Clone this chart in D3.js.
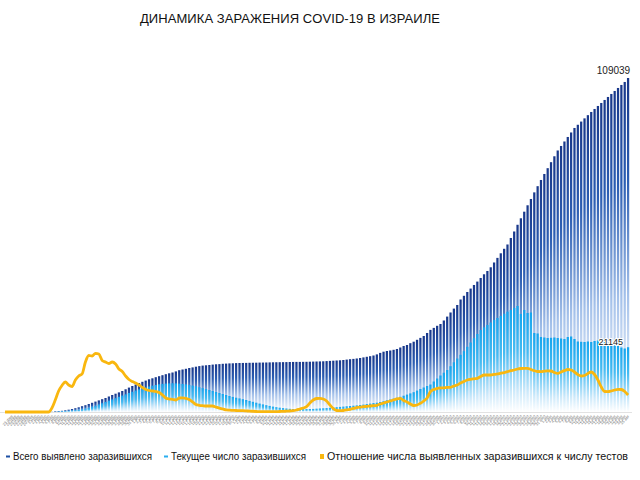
<!DOCTYPE html>
<html><head><meta charset="utf-8">
<script src="https://cdn.jsdelivr.net/npm/d3@7"></script>
<style>body{margin:0;background:#fff;}svg{display:block;font-family:"Liberation Sans",Arial,sans-serif;}</style>
</head><body><svg id="c" width="640" height="480"></svg>
<script>
const title = "ДИНАМИКА ЗАРАЖЕНИЯ COVID-19 В ИЗРАИЛЕ";
const seriesNames = ["Всего выявлено заразившихся","Текущее число заразившихся","Отношение числа выявленных заразившихся к числу тестов"];
const startDate = new Date(2020, 1, 21);
const monthsRu = ["янв","фев","мар","апр","мая","июн","июл","авг","сен","окт","ноя","дек"];

const totalCases = [1,1,1,1,1,2,2,3,3,4,7,10,12,15,
33,163,261,392,555,751,980,1241,1535,1894,2220,2612,3004,3396,3787,4179,
4571,5061,5551,5975,6399,6857,7412,7967,8489,8979,9469,9860,10252,10677,11003,
11362,11689,12015,12342,12636,12897,13256,13647,13876,14105,14366,14562,14790,14986,15150,
15248,15346,15476,15574,15639,15737,15802,15868,15900,15966,15999,16015,16031,16064,16080,
16096,16129,16145,16162,16194,16227,16243,16259,16276,16292,16325,16341,16357,16357,16374,
16390,16423,16456,16488,16521,16554,16619,16684,16750,16815,16880,16978,17109,17239,17337,
17468,17631,17827,18023,18219,18447,18806,19296,19688,19917,20080,20308,20570,21059,21549,
21876,22464,22953,23573,24194,24814,25794,26806,27459,28144,28732,29875,31148,32487,33760,
34936,36731,37939,39180,40290,41466,42576,43751,44959,46037,47245,48812,50314,51816,53285,
54689,56811,58934,61121,63244,65398,67488,69545,71700,73724,75748,77707,79601,81560,83487,
85380,86849,88318,89788,91257,92726,93771,94816,95860,96905,97950,98930,99909,100889,101868,
102848,103827,104807,105786,106766,107745,109039];

const activeCases = [1,1,1,1,1,2,2,3,3,4,7,10,12,15,30,
65,131,196,294,392,490,588,718,882,1110,1371,1698,2024,2416,2841,
3265,3689,4114,4506,4930,5355,5746,6204,6595,6987,7379,7705,8032,8326,8587,
8816,9044,9175,9273,9338,9371,9338,9240,9142,9011,8848,8620,8391,8097,7803,
7510,7183,6857,6530,6204,5877,5551,5224,4930,4669,4440,4179,3918,3624,3330,
3036,2743,2482,2220,1992,1763,1567,1404,1273,1143,1045,980,947,914,914,
947,980,1012,1078,1143,1208,1273,1371,1469,1567,1665,1763,1861,1959,2057,
2155,2286,2416,2579,2743,2906,3036,3265,3526,3820,4081,4375,4636,4963,5322,
5681,6073,6465,6987,7510,7999,8489,8979,9958,10938,11917,12832,13713,14954,16227,
17468,18676,19851,21288,22692,24096,25467,26773,27622,28406,29222,30038,30691,31344,32062,
32748,33303,33956,34609,31997,33303,32324,32487,25794,25630,24488,24324,24161,24227,24324,
24161,23998,23835,24488,24651,23835,23018,22920,22855,23018,22855,23182,23345,23410,23345,
21712,21876,21712,21549,21059,20733,21145];

const positiveRate = [0,0,0,0,0,0,0,0,0,0,0,0,0,0,
0.71,2.14,3.75,4.73,5.36,4.82,4.55,5.71,6.43,6.79,8.93,10.09,10.0,10.48,10.36,9.2,
8.93,8.66,8.93,8.57,7.68,7.23,6.43,5.8,5.45,5.18,4.82,4.38,4.02,3.84,3.75,
3.66,3.48,3.04,2.5,2.32,2.27,2.14,2.5,2.54,2.45,2.23,1.79,1.34,1.2,1.13,
1.07,1.07,1.07,0.86,0.68,0.54,0.36,0.32,0.29,0.27,0.23,0.23,0.2,0.16,0.13,
0.09,0.05,0.05,0.05,0.05,0.05,0.07,0.09,0.11,0.14,0.18,0.23,0.36,0.54,0.71,
0.95,1.61,2.14,2.41,2.45,2.32,1.96,1.25,0.63,0.27,0.23,0.27,0.36,0.48,0.63,
0.8,0.89,0.95,1.02,1.07,1.13,1.2,1.43,1.61,1.79,1.96,2.14,2.36,2.45,2.05,
1.79,1.43,1.16,1.25,1.55,1.96,2.5,3.63,4.02,4.2,4.29,4.32,4.38,4.41,4.64,
4.82,5.18,5.45,5.71,5.84,5.93,6.02,6.34,6.61,6.61,6.61,6.7,6.79,6.93,7.05,
7.2,7.38,7.5,7.68,7.77,7.8,7.8,7.59,7.36,7.23,7.2,7.29,7.36,7.32,7.05,
6.88,7.14,7.38,7.59,7.5,7.14,6.7,6.43,6.52,6.88,7.14,6.7,5.71,4.46,3.66,
3.63,3.75,3.93,4.05,4.02,3.66,3.04];

const dates = totalCases.map((d,i)=>d3.timeDay.offset(startDate, i));
const tickLabels = dates.map(d => d.getDate() + " " + monthsRu[d.getMonth()]);

const svg = d3.select("#c");
const defs = svg.append("defs");
const g1 = defs.append("linearGradient").attr("id","gDark").attr("x1",0).attr("y1",0).attr("x2",0).attr("y2",1);
[[0,"#18378a"],[0.3,"#2b5db2"],[0.65,"#a4c1ea"],[1,"#ffffff"]].forEach(s=>g1.append("stop").attr("offset",s[0]).attr("stop-color",s[1]));
const g2 = defs.append("linearGradient").attr("id","gLight").attr("x1",0).attr("y1",0).attr("x2",0).attr("y2",1);
[[0,"#14a5ee"],[0.4,"#45bcf2"],[0.8,"#cdeafb"],[1,"#ffffff"]].forEach(s=>g2.append("stop").attr("offset",s[0]).attr("stop-color",s[1]));

const idx = d3.range(totalCases.length);
const x = d3.scaleBand().domain(idx).range([3.3, 629.8]).paddingInner(0.33).paddingOuter(0.18);
const y = d3.scaleLinear().domain([0, 109039]).range([412, 78]);
const yr = d3.scaleLinear().domain([0, 10]).range([412, 356]);

svg.append("text").attr("x",290).attr("y",23).attr("text-anchor","middle")
  .attr("font-size",13).attr("fill","#111").attr("textLength",300).text(title);

svg.append("line").attr("x1",0).attr("x2",632).attr("y1",412.5).attr("y2",412.5)
  .attr("stroke","#e2e2e2").attr("stroke-width",1);

svg.append("g").selectAll("rect").data(idx).join("rect")
  .attr("x", i=>x(i)).attr("width", x.bandwidth())
  .attr("y", i=>y(totalCases[i])).attr("height", i=>Math.max(0.01, y(0)-y(totalCases[i])))
  .attr("fill","url(#gDark)");
svg.append("g").selectAll("rect").data(idx).join("rect")
  .attr("x", i=>x(i)).attr("width", x.bandwidth())
  .attr("y", i=>y(activeCases[i])).attr("height", i=>Math.max(0.01, y(0)-y(activeCases[i])))
  .attr("fill","url(#gLight)");

const line = d3.line().x((d,i)=>x(i)+x.bandwidth()/2).y(d=>yr(d)).curve(d3.curveMonotoneX);
svg.append("path").datum(positiveRate).attr("d", line).attr("fill","none")
  .attr("stroke","#f9b70f").attr("stroke-width",2.8).attr("stroke-linejoin","round");

const last = totalCases.length-1;
svg.append("text").attr("x", x(last)+x.bandwidth()+1).attr("y", y(totalCases[last])-4)
  .attr("text-anchor","end").attr("font-size",10).attr("fill","#222").text(totalCases[last]);
svg.append("text").attr("x", x(last)-4).attr("y", y(activeCases[last])-2)
  .attr("text-anchor","end").attr("font-size",9).attr("fill","#222")
  .attr("stroke","#fff").attr("stroke-width",2).attr("paint-order","stroke").text(activeCases[last]);

const ax = svg.append("g").attr("transform","translate(0,415)")
  .call(d3.axisBottom(x).tickSize(0).tickFormat(i=>tickLabels[i]));
ax.select(".domain").remove();
ax.selectAll("text").attr("font-size",4).attr("fill","#777")
  .attr("text-anchor","end").attr("dy",0).attr("dx",0).attr("y",2)
  .attr("transform","rotate(-48)");
ax.selectAll(".tick").filter(i=>i<2).remove();

const legend = [
  {x:6, name:seriesNames[0], color:"#1d4fa3", w:4, h:2, tx:13, tw:139},
  {x:164, name:seriesNames[1], color:"#29aef0", w:4, h:2, tx:171, tw:135},
  {x:320, name:seriesNames[2], color:"#f9b70f", w:4, h:5, tx:327, tw:301}
];
const lg = svg.append("g");
legend.forEach(l=>{
  lg.append("rect").attr("x",l.x).attr("y",457-l.h/2-0.5).attr("width",l.w).attr("height",l.h).attr("fill",l.color);
  lg.append("text").attr("x",l.tx).attr("y",460).attr("font-size",10).attr("fill","#111")
    .attr("textLength",l.tw).attr("lengthAdjust","spacingAndGlyphs").text(l.name);
});
</script></body></html>
